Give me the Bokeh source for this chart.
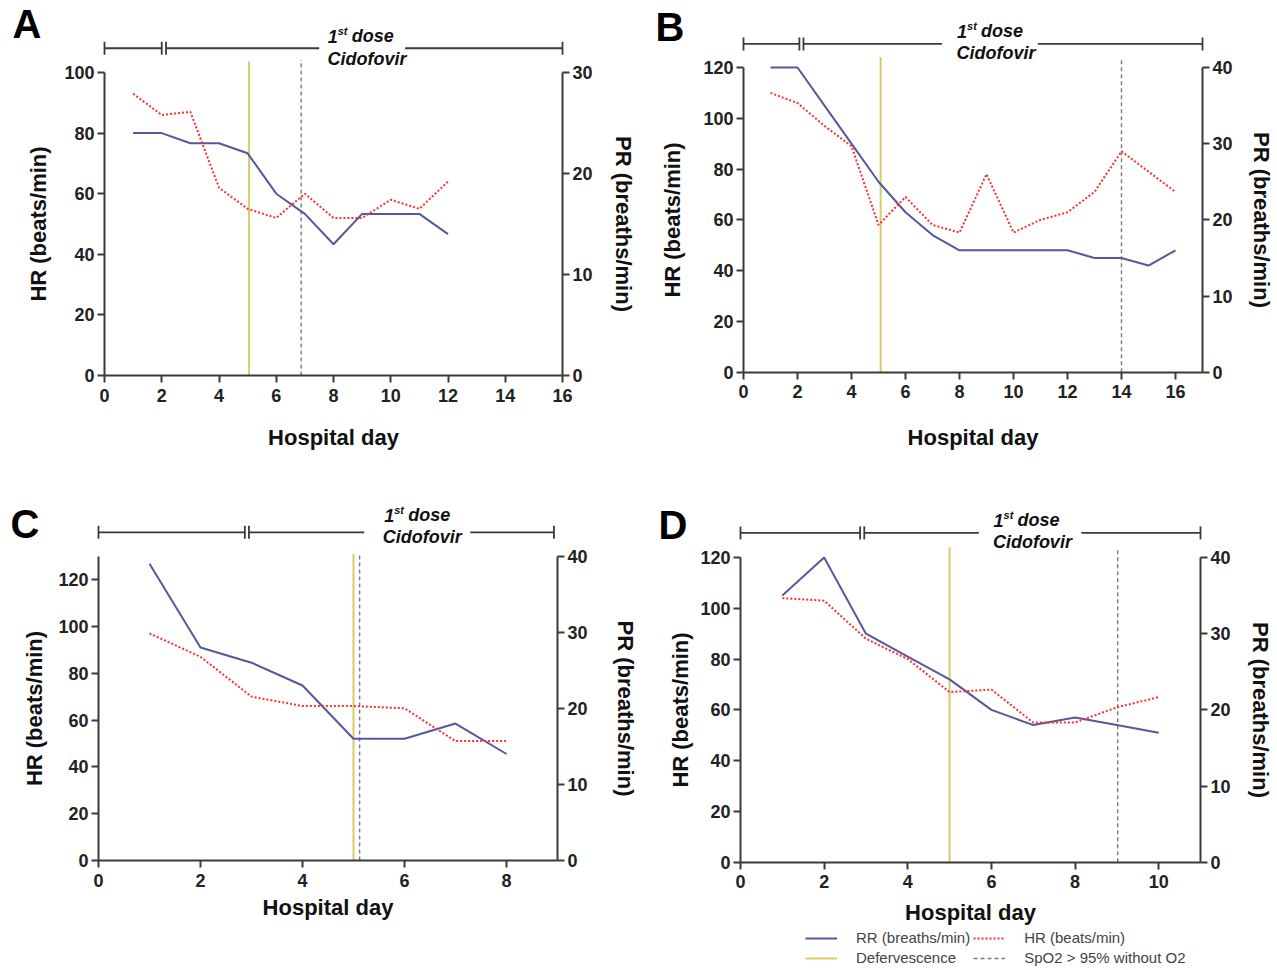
import numpy as np
from bokeh.plotting import figure
from bokeh.models import Range1d, LinearAxis, FixedTicker, Label, Legend, LegendItem
from bokeh.layouts import column, row
from bokeh.embed import file_html
from bokeh.resources import INLINE

# ---------------- data ----------------
days_A = [1, 2, 3, 4, 5, 6, 7, 8, 9, 10, 11, 12]
hr_A = [93, 86, 87, 62, 55, 52, 60, 52, 52, 58, 55, 64]
rr_A = [24, 24, 23, 23, 22, 18, 16, 13, 16, 16, 16, 14]

days_B = [1, 2, 3, 4, 5, 6, 7, 8, 9, 10, 11, 12, 13, 14, 15, 16]
hr_B = [110, 106, 97, 89, 58, 69, 58, 55, 78, 55, 60, 63, 71, 87, 79, 71]
rr_B = [40, 40, 35, 30, 25, 21, 18, 16, 16, 16, 16, 16, 15, 15, 14, 16]

days_C = [1, 2, 3, 4, 5, 6, 7, 8]
hr_C = [97, 87, 70, 66, 66, 65, 51, 51]
rr_C = [39, 28, 26, 23, 16, 16, 18, 14]

days_D = [1, 2, 3, 4, 5, 6, 7, 8, 9, 10]
hr_D = [104, 103, 88, 80, 67, 68, 55, 55, 61, 65]
rr_D = [35, 40, 30, 27, 24, 20, 18, 19, 18, 17]

defervescence_day = {"A": 5.05, "B": 5.08, "C": 5.0, "D": 5.0}
spo2_day = {"A": 6.87, "B": 14.0, "C": 5.12, "D": 9.02}
cidofovir_break = {"A": (2.0, 2.15), "B": (2.07, 2.22), "C": (2.87, 2.95), "D": (2.86, 2.96)}

# ---------------- styles / layout ----------------
BLUE = "#57579b"
RED = "#ff2d2d"
YELLOW = "#d8cc6a"
GREY = "#7a7a7a"
AXIS = "#3a3a3a"
TXT = "#222222"
FONT = "Liberation Sans"

# w,h: figure size; axL/axR: pixel x of left/right axes; axB: pixel y (from top) of x axis
cfg = {
    "A": dict(w=638, h=483, axL=104, axR=562, axB=375, ppy=3.03,
              xmax=16, xticks=list(range(0, 17, 2)),
              ymax=100, yticks=list(range(0, 101, 20)), ratio=0.3, rmax=30,
              rticks=[0, 10, 20, 30], bar_y=108, gap=(7.5, 10.5), bar_end=16,
              dose=(8.95, 111.9), cido=(9.17, 104.6), vtop=(103.6, 104.2),
              letter=(12, 482), xl_st=20, yl_st=10, rl_st=15),
    "B": dict(w=639, h=483, axL=105, axR=564, axB=371.7, ppy=2.539,
              xmax=17, xticks=list(range(0, 17, 2)),
              ymax=120, yticks=list(range(0, 121, 20)), ratio=1 / 3, rmax=40,
              rticks=[0, 10, 20, 30, 40], bar_y=129.3, gap=(7.35, 10.9), bar_end=17,
              dose=(9.13, 134.3), cido=(9.35, 125.6), vtop=(124, 124),
              letter=(17, 479), xl_st=23, yl_st=15, rl_st=13),
    "C": dict(w=638, h=487, axL=98, axR=557, axB=377, ppy=2.341,
              xmax=9, xticks=list(range(0, 9, 2)),
              ymax=130, yticks=list(range(0, 121, 20)), ratio=40 / 130, rmax=40,
              rticks=[0, 10, 20, 30, 40], bar_y=140.2, gap=(5.21, 7.29), bar_end=8.93,
              dose=(6.25, 147.4), cido=(6.35, 138.1), vtop=(131, 131),
              letter=(10, 469), xl_st=5, yl_st=8, rl_st=22),
    "D": dict(w=639, h=487, axL=102, axR=562, axB=378.7, ppy=2.539,
              xmax=11, xticks=list(range(0, 11, 2)),
              ymax=120, yticks=list(range(0, 121, 20)), ratio=1 / 3, rmax=40,
              rticks=[0, 10, 20, 30, 40], bar_y=129.7, gap=(5.7, 8.15), bar_end=11,
              dose=(6.84, 134.6), cido=(6.98, 126.0), vtop=(124, 124),
              letter=(20, 468), xl_st=8, yl_st=4, rl_st=14),
}


def style_axis(ax, label_standoff):
    ax.axis_line_color = AXIS
    ax.axis_line_width = 2
    ax.major_tick_line_color = AXIS
    ax.major_tick_line_width = 2
    ax.major_tick_out = 7
    ax.major_tick_in = 0
    ax.minor_tick_line_color = None
    ax.major_label_text_font = FONT
    ax.major_label_text_font_style = "bold"
    ax.major_label_text_font_size = "18px"
    ax.major_label_text_color = TXT
    ax.major_label_standoff = 3
    ax.axis_label_text_font = FONT
    ax.axis_label_text_font_style = "bold"
    ax.axis_label_text_font_size = "22px"
    ax.axis_label_text_color = "#111111"
    ax.axis_label_standoff = int(round(label_standoff))


def make_panel(letter, days, hr, rr):
    c = cfg[letter]
    ppx = (c["axR"] - c["axL"]) / c["xmax"]
    x0 = -c["axL"] / ppx
    x1 = c["xmax"] + (c["w"] - c["axR"]) / ppx
    y0 = -(c["h"] - c["axB"]) / c["ppy"]
    y1 = c["axB"] / c["ppy"]

    p = figure(width=c["w"], height=c["h"],
               min_border_left=0, min_border_right=0, min_border_top=0, min_border_bottom=0,
               x_range=Range1d(x0, x1), y_range=Range1d(y0, y1),
               x_axis_location=None, y_axis_location=None,
               output_backend="svg", toolbar_location=None, tools="")
    p.outline_line_color = None
    p.grid.visible = False
    p.background_fill_color = "white"
    p.border_fill_color = "white"

    p.extra_y_ranges = {"rr": Range1d(y0 * c["ratio"], y1 * c["ratio"])}

    xa = LinearAxis(ticker=FixedTicker(ticks=c["xticks"]), bounds=(0, c["xmax"]),
                    axis_label="Hospital day", fixed_location=0)
    style_axis(xa, c["xl_st"])
    xa.major_label_standoff = 6
    p.add_layout(xa, "below")

    ya = LinearAxis(ticker=FixedTicker(ticks=c["yticks"]), bounds=(0, c["ymax"]),
                    axis_label="HR (beats/min)", fixed_location=0)
    style_axis(ya, c["yl_st"])
    p.add_layout(ya, "left")

    ra = LinearAxis(y_range_name="rr", ticker=FixedTicker(ticks=c["rticks"]),
                    bounds=(0, c["rmax"]), axis_label="PR (breaths/min)",
                    fixed_location=c["xmax"])
    style_axis(ra, c["rl_st"])
    p.add_layout(ra, "right")

    # event lines
    dday = defervescence_day[letter]
    sday = spo2_day[letter]
    r_def = p.segment(x0=[dday], y0=[0], x1=[dday], y1=[c["vtop"][0]],
                      line_color=YELLOW, line_width=2)
    r_spo = p.segment(x0=[sday], y0=[0], x1=[sday], y1=[c["vtop"][1]],
                      line_color=GREY, line_width=1.4, line_dash="4 3")

    # series
    r_rr = p.line(days, rr, y_range_name="rr", line_color=BLUE, line_width=2)
    r_hr = p.line(days, hr, line_color=RED, line_width=2, line_dash="2 2")

    # treatment bar
    b1, b2 = cidofovir_break[letter]
    g0, g1 = c["gap"]
    by = c["bar_y"]
    p.segment(x0=[0, b2, g1], y0=[by] * 3, x1=[b1, g0, c["bar_end"]], y1=[by] * 3,
              line_color=AXIS, line_width=1.8)
    p.scatter(x=[0, b1, b2, c["bar_end"]], y=[by] * 4, marker="dash", angle=np.pi / 2,
              size=13, line_color=AXIS, line_width=1.8)

    dx, dy = c["dose"]
    common = dict(text_font=FONT, text_font_style="bold italic", text_color="#111111",
                  text_baseline="middle")
    p.add_layout(Label(x=dx, y=dy, text="1", text_align="right", x_offset=-23,
                       text_font_size="18px", **common))
    p.add_layout(Label(x=dx, y=dy, text="st", text_align="left", x_offset=-23, y_offset=5,
                       text_font_size="11px", **common))
    p.add_layout(Label(x=dx, y=dy, text="dose", text_align="left", x_offset=-9,
                       text_font_size="18px", **common))
    cx, cy = c["cido"]
    p.add_layout(Label(x=cx, y=cy, text="Cidofovir", text_align="center",
                       text_font_size="18px", **common))

    lx, ly = c["letter"]
    p.add_layout(Label(x=lx, y=ly, x_units="screen", y_units="screen", text=letter,
                       text_font=FONT, text_font_style="bold", text_font_size="40px",
                       text_color="#000000", text_baseline="top", text_align="left"))
    return p, dict(rr=r_rr, hr=r_hr, deferv=r_def, spo2=r_spo)


pA, _ = make_panel("A", days_A, hr_A, rr_A)
pB, _ = make_panel("B", days_B, hr_B, rr_B)
pC, _ = make_panel("C", days_C, hr_C, rr_C)
pD, rD = make_panel("D", days_D, hr_D, rr_D)

legend = Legend(items=[
    LegendItem(label="RR (breaths/min)", renderers=[rD["rr"]]),
    LegendItem(label="Defervescence", renderers=[rD["deferv"]]),
    LegendItem(label="HR (beats/min)", renderers=[rD["hr"]]),
    LegendItem(label="SpO2 > 95% without O2", renderers=[rD["spo2"]]),
], location=(167, 4), orientation="vertical", ncols=2)
legend.label_text_font = FONT
legend.label_text_font_size = "15px"
legend.label_text_color = "#444444"
legend.glyph_width = 32
legend.glyph_height = 14
legend.label_height = 14
legend.label_standoff = 19
legend.spacing = 3
legend.padding = 0
legend.margin = 0
legend.border_line_color = None
legend.background_fill_alpha = 0
pD.add_layout(legend)

layout = column(row(pA, pB), row(pC, pD))
open("out.html", "w").write(file_html(layout, INLINE))
